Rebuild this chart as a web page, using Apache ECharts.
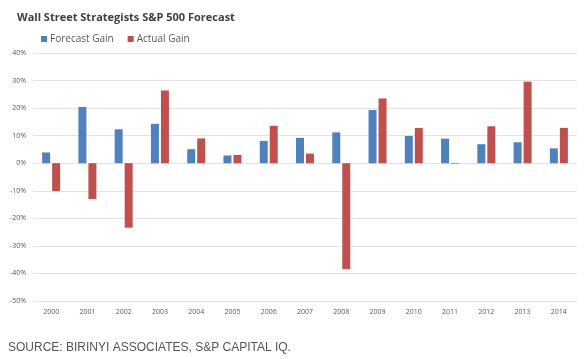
<!DOCTYPE html>
<html><head><meta charset="utf-8">
<script src="https://cdn.jsdelivr.net/npm/echarts@6/dist/echarts.min.js"></script>
<style>html,body{margin:0;padding:0;background:#fff}#c{width:584px;height:359px}</style>
</head><body><div id="c"></div>
<script>
const years = ['2000','2001','2002','2003','2004','2005','2006','2007','2008','2009','2010','2011','2012','2013','2014'];
const forecastGain = [3.9, 20.4, 12.3, 14.3, 5.1, 2.8, 8.1, 9.2, 11.2, 19.3, 9.9, 8.9, 6.9, 7.6, 5.4];
const actualGain = [-10.1, -13.0, -23.4, 26.4, 9.0, 3.0, 13.6, 3.5, -38.5, 23.5, 12.8, -0.2, 13.4, 29.6, 12.8];
const yTicks = {min: -50, max: 40, interval: 10};

const chart = echarts.init(document.getElementById('c'), null, {renderer: 'canvas'});
chart.setOption({
  animation: false,
  backgroundColor: '#fff',
  title: {
    text: 'Wall Street Strategists S&P 500 Forecast',
    left: 12, top: 7,
    textStyle: {fontFamily: 'Open Sans', fontWeight: 'bold', fontSize: 11, color: '#404040'}
  },
  legend: {
    left: 36, top: 29, itemWidth: 6, itemHeight: 6, itemGap: 14,
    icon: 'rect',
    textStyle: {fontFamily: 'Open Sans', fontSize: 10, color: '#595959', padding: [0,0,0,-2]},
    data: ['Forecast Gain', 'Actual Gain']
  },
  graphic: [{
    type: 'text', left: 8, top: 342,
    style: {text: 'SOURCE: BIRINYI ASSOCIATES, S&P CAPITAL IQ.', fontFamily: 'Liberation Sans', fontSize: 12, fill: '#555'}
  }],
  grid: {left: 33, right: 7, top: 53, bottom: 58, containLabel: false},
  xAxis: {
    type: 'category', data: years, position: 'bottom',
    axisLine: {show: false}, axisTick: {show: false},
    axisLabel: {fontFamily: 'Open Sans', fontSize: 7, color: '#595959', margin: 7}
  },
  yAxis: {
    type: 'value', min: yTicks.min, max: yTicks.max, interval: yTicks.interval,
    axisLine: {show: false}, axisTick: {show: false},
    axisLabel: {formatter: '{value}%', fontFamily: 'Open Sans', fontSize: 7, color: '#595959', margin: 7},
    splitLine: {lineStyle: {color: '#e3e3e3', width: 1}}
  },
  series: [
    {name: 'Forecast Gain', type: 'bar', data: forecastGain, barWidth: 8, barGap: '25%',
     itemStyle: {color: '#4F81BD'}},
    {name: 'Actual Gain', type: 'bar', data: actualGain, barWidth: 8, barGap: '25%',
     itemStyle: {color: '#C0504D'}}
  ]
});
</script></body></html>
